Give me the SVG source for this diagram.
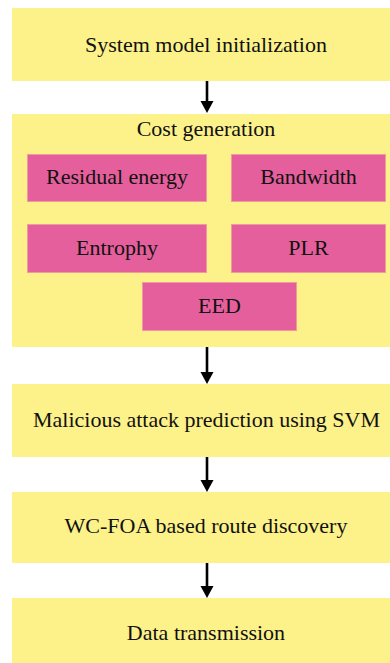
<svg xmlns="http://www.w3.org/2000/svg" width="390" height="663" viewBox="0 0 390 663">
<style>
.step{fill:#FDF18A;}
.cost{fill:#E55F9C;stroke:#F19A9E;stroke-width:1;}
text{font-family:'Liberation Serif','Times New Roman',serif;font-size:22px;fill:#111;text-anchor:middle;}
.conn{stroke:#000;stroke-width:2.6;fill:none;}
</style>
<rect width="390" height="663" fill="#fff"/>
<g id="n1"><rect class="step" x="12" y="8" width="378" height="73"/><text x="206" y="52" font-size="21.7">System model initialization</text></g>
<g id="n2"><rect class="step" x="12" y="114" width="378" height="233"/><text x="206" y="136">Cost generation</text></g>
<g id="c1"><rect class="cost" x="27.5" y="154.5" width="179" height="47"/><text x="117" y="184">Residual energy</text></g>
<g id="c2"><rect class="cost" x="231.5" y="154.5" width="154" height="47"/><text x="308.5" y="184">Bandwidth</text></g>
<g id="c3"><rect class="cost" x="27.5" y="224.5" width="179" height="48"/><text x="117" y="255">Entrophy</text></g>
<g id="c4"><rect class="cost" x="231.5" y="224.5" width="154" height="48"/><text x="308.5" y="255">PLR</text></g>
<g id="c5"><rect class="cost" x="142.5" y="282.5" width="154" height="48"/><text x="219.5" y="313">EED</text></g>
<g id="n3"><rect class="step" x="12" y="384" width="378" height="73"/><text x="206.5" y="427" font-size="22.4">Malicious attack prediction using SVM</text></g>
<g id="n4"><rect class="step" x="12" y="492" width="378" height="71"/><text x="206" y="533">WC-FOA based route discovery</text></g>
<g id="n5"><rect class="step" x="12" y="598" width="378" height="65"/><text x="206" y="640">Data transmission</text></g>
<g id="connectors">
<line class="conn" x1="207" y1="81" x2="207" y2="102"/><polygon points="200.5,101 213.5,101 207,113"/>
<line class="conn" x1="207" y1="347" x2="207" y2="373"/><polygon points="200.5,372 213.5,372 207,384"/>
<line class="conn" x1="207" y1="457" x2="207" y2="481"/><polygon points="200.5,480 213.5,480 207,492"/>
<line class="conn" x1="207" y1="563" x2="207" y2="587"/><polygon points="200.5,586 213.5,586 207,598"/>
</g>
</svg>
